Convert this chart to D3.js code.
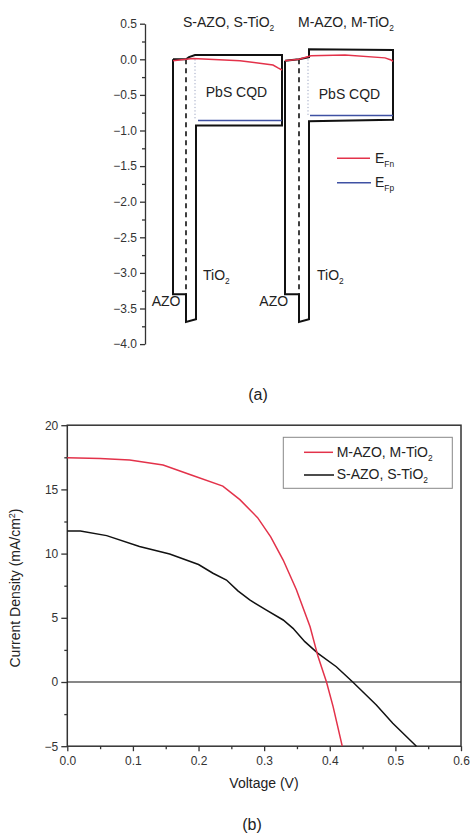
<!DOCTYPE html>
<html>
<head>
<meta charset="utf-8">
<script src="https://cdn.jsdelivr.net/npm/d3@7/dist/d3.min.js"></script>
<style>
  body { margin: 0; background: #fff; }
  svg text { font-family: Arial, "Liberation Sans", sans-serif; fill: #222; }
</style>
</head>
<body>
<svg id="fig"></svg>
<script>
// ---- (a) band diagram: [position (a.u.), energy (eV)] ----
var eTicks = [0.5, 0, -0.5, -1, -1.5, -2, -2.5, -3, -3.5, -4]
var sBand = [[28,0],[41,0],[44,0.03],[50,0.06],[137,0.06],[137,-0.93],[51,-0.93],
             [51,-3.65],[41,-3.69],[41,-3.3],[28,-3.3],[28,0]]
var sEfn = [[28,-0.02],[41,0],[48,0.01],[95,-0.02],[128,-0.08],[133,-0.12],[137,-0.15]]
var sEfp = [[53,-0.86],[137,-0.86]]
var sDash = [[41,0],[41,-3.3]]
var sDot = [[50,0],[50,-0.86]]

var mBand = [[140,-0.02],[154,0],[164,0.03],[164,0.14],[248,0.13],[248,-0.85],[164,-0.87],
             [164,-3.65],[154,-3.69],[154,-3.3],[140,-3.3],[140,-0.02]]
var mEfn = [[140,-0.02],[154,0],[166,0.05],[200,0.06],[240,0.02],[246,-0.01],[248,-0.03]]
var mEfp = [[165,-0.79],[248,-0.79]]
var mDash = [[154,0],[154,-3.3]]
var mDot = [[163,0],[163,-0.79]]

// ---- (b) J-V curves: [voltage (V), current density (mA/cm2)] ----
var mJV = [[0,17.47],[0.05,17.4],[0.095,17.29],[0.146,16.9],[0.19,16.1],[0.237,15.26],
           [0.263,14.2],[0.29,12.8],[0.31,11.3],[0.329,9.5],[0.349,7.2],[0.37,4.3],
           [0.382,2.0],[0.395,0],[0.405,-1.9],[0.419,-5]]
var sJV = [[0,11.76],[0.02,11.76],[0.06,11.4],[0.11,10.55],[0.156,9.97],[0.2,9.15],
           [0.222,8.47],[0.2426,7.94],[0.26,7.1],[0.278,6.39],[0.3035,5.6],[0.329,4.83],
           [0.344,4.18],[0.362,3.14],[0.382,2.23],[0.41,1.19],[0.435,0],[0.471,-1.79],
           [0.496,-3.22],[0.532,-5]]
var vTicks = [0, 0.1, 0.2, 0.3, 0.4, 0.5, 0.6]
var jTicks = [-5, 0, 5, 10, 15, 20]

var width = 470, height = 835
var red = '#e3324a', blue = '#3f51a3', black = '#111'

var svg = d3.select('#fig').attr('width', width).attr('height', height)

// ================= (a) =================
var xPos = d3.scaleLinear().domain([0, 250]).range([145, 395])
var yE = d3.scaleLinear().domain([-4, 0.5]).range([344.1, 23.7])
var lineA = d3.line().x(function(d){ return xPos(d[0]) }).y(function(d){ return yE(d[1]) })

var gA = svg.append('g')

var axisA = d3.axisLeft(yE).tickValues(eTicks).tickFormat(d3.format('.1f'))
    .tickSize(5).tickSizeOuter(0).tickPadding(3)
gA.append('g').attr('transform', 'translate(' + xPos(0) + ',0)').call(axisA)
gA.append('g').attr('transform', 'translate(' + xPos(0) + ',0)')
    .call(d3.axisLeft(yE).tickValues(d3.range(-3.75, 0.5, 0.5)).tickSize(3).tickFormat(''))
    .select('.domain').remove()
gA.selectAll('.tick text').style('font-size', '12px').style('fill', '#333')
gA.selectAll('path, line').style('stroke', '#333').style('stroke-width', 1.3)

function drawSet(band, efn, efp, dash, dot) {
    gA.append('path').attr('d', lineA(dot)).attr('fill', 'none')
        .attr('stroke', '#9aa3c0').attr('stroke-width', 1).attr('stroke-dasharray', '1.2,2.2')
    gA.append('path').attr('d', lineA(dash)).attr('fill', 'none')
        .attr('stroke', black).attr('stroke-width', 1.6).attr('stroke-dasharray', '5,4')
    gA.append('path').attr('d', lineA(band)).attr('fill', 'none')
        .attr('stroke', black).attr('stroke-width', 2).attr('stroke-linejoin', 'miter')
    gA.append('path').attr('d', lineA(efp)).attr('fill', 'none')
        .attr('stroke', blue).attr('stroke-width', 1.5)
    gA.append('path').attr('d', lineA(efn)).attr('fill', 'none')
        .attr('stroke', red).attr('stroke-width', 1.5)
}
drawSet(sBand, sEfn, sEfp, sDash, sDot)
drawSet(mBand, mEfn, mEfp, mDash, mDot)

function label(g, x, y, main, sub, size, anchor) {
    var t = g.append('text').attr('x', x).attr('y', y)
        .style('font-size', size + 'px').attr('text-anchor', anchor || 'start').text(main)
    if (sub) {
        t.append('tspan').attr('dy', 4).style('font-size', (size * 0.6) + 'px').text(sub)
    }
    return t
}
label(gA, xPos(38), yE(0.46), 'S-AZO, S-TiO', '2', 14)
label(gA, xPos(153), yE(0.46), 'M-AZO, M-TiO', '2', 14)
label(gA, xPos(91.5), yE(-0.53), 'PbS CQD', null, 14, 'middle')
label(gA, xPos(204.5), yE(-0.56), 'PbS CQD', null, 14, 'middle')
label(gA, xPos(58), yE(-3.1), 'TiO', '2', 14)
label(gA, xPos(172), yE(-3.1), 'TiO', '2', 14)
label(gA, xPos(6.7), yE(-3.46), 'AZO', null, 14)
label(gA, xPos(114.3), yE(-3.47), 'AZO', null, 14)

// legend (a)
gA.append('line').attr('x1', 337).attr('x2', 370).attr('y1', 158.3).attr('y2', 158.3)
    .attr('stroke', red).attr('stroke-width', 1.5)
gA.append('line').attr('x1', 337).attr('x2', 371).attr('y1', 182.7).attr('y2', 182.7)
    .attr('stroke', blue).attr('stroke-width', 1.5)
label(gA, 375, 163.3, 'E', 'Fn', 14)
label(gA, 375, 187.3, 'E', 'Fp', 14)

svg.append('text').attr('x', 258).attr('y', 400).attr('text-anchor', 'middle')
    .style('font-size', '16px').text('(a)')

// ================= (b) =================
var xV = d3.scaleLinear().domain([0, 0.6]).range([67.3, 461])
var yJ = d3.scaleLinear().domain([-5, 20]).range([746.2, 425.2])
var lineB = d3.line().x(function(d){ return xV(d[0]) }).y(function(d){ return yJ(d[1]) })

var gB = svg.append('g')

gB.append('rect').attr('x', xV(0)).attr('y', yJ(20))
    .attr('width', xV(0.6) - xV(0)).attr('height', yJ(-5) - yJ(20))
    .attr('fill', 'none').attr('stroke', '#333').attr('stroke-width', 1.5)

var xAxis = d3.axisBottom(xV).tickValues(vTicks).tickFormat(d3.format('.1f'))
    .tickSize(5).tickSizeOuter(0).tickPadding(5)
gB.append('g').attr('transform', 'translate(0,' + yJ(-5) + ')').call(xAxis)
gB.append('g').attr('transform', 'translate(0,' + yJ(-5) + ')')
    .call(d3.axisBottom(xV).tickValues(d3.range(0.05, 0.6, 0.1)).tickSize(3).tickFormat(''))
var yAxis = d3.axisLeft(yJ).tickValues(jTicks).tickSize(6).tickSizeOuter(0).tickPadding(3)
gB.append('g').attr('transform', 'translate(' + xV(0) + ',0)').call(yAxis)
gB.append('g').attr('transform', 'translate(' + xV(0) + ',0)')
    .call(d3.axisLeft(yJ).tickValues(d3.range(-2.5, 20, 5)).tickSize(3).tickFormat(''))
gB.selectAll('.domain').remove()
gB.selectAll('.tick text').style('font-size', '12px').style('fill', '#333')
gB.selectAll('.tick line').style('stroke', '#333').style('stroke-width', 1.3)

// zero line
gB.append('line').attr('x1', xV(0)).attr('x2', xV(0.6)).attr('y1', yJ(0)).attr('y2', yJ(0))
    .attr('stroke', black).attr('stroke-width', 1.2)

gB.append('path').attr('d', lineB(sJV)).attr('fill', 'none')
    .attr('stroke', black).attr('stroke-width', 1.5)
gB.append('path').attr('d', lineB(mJV)).attr('fill', 'none')
    .attr('stroke', red).attr('stroke-width', 1.5)

// legend (b)
gB.append('rect').attr('x', 283.3).attr('y', 437.3).attr('width', 169).attr('height', 51)
    .attr('fill', '#fff').attr('stroke', '#888').attr('stroke-width', 1)
gB.append('line').attr('x1', 304).attr('x2', 333).attr('y1', 452.3).attr('y2', 452.3)
    .attr('stroke', red).attr('stroke-width', 1.5)
gB.append('line').attr('x1', 304).attr('x2', 334).attr('y1', 475).attr('y2', 475)
    .attr('stroke', black).attr('stroke-width', 1.5)
label(gB, 336.7, 456.7, 'M-AZO, M-TiO', '2', 14)
label(gB, 336.7, 479, 'S-AZO, S-TiO', '2', 14)

// axis titles
gB.append('text').attr('x', 264).attr('y', 788).attr('text-anchor', 'middle')
    .style('font-size', '14px').text('Voltage (V)')
var yt = gB.append('text').attr('transform', 'translate(20,588) rotate(-90)')
    .attr('text-anchor', 'middle').style('font-size', '14px')
yt.append('tspan').text('Current Density (mA/cm')
yt.append('tspan').attr('dy', -5).style('font-size', '9px').text('2')
yt.append('tspan').attr('dy', 5).text(')')

svg.append('text').attr('x', 252).attr('y', 830).attr('text-anchor', 'middle')
    .style('font-size', '16px').text('(b)')
</script>
</body>
</html>
